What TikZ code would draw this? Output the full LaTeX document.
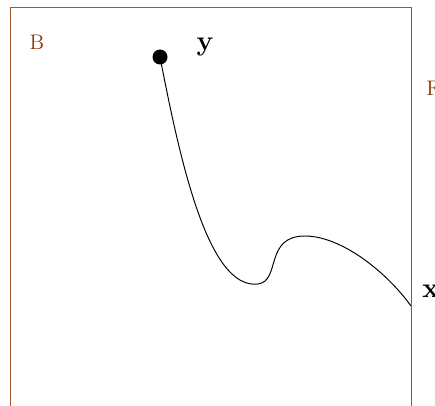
\documentclass[tikz,border=0pt]{standalone}
\usepackage{tikz}
\definecolor{framebrown}{RGB}{170,85,40}
\definecolor{labelbrown}{RGB}{140,55,15}

\begin{document}
\begin{tikzpicture}[
        x=0.02cm, y=-0.02cm,
        region/.style={text=labelbrown,font=\fontsize{12}{14}\selectfont,inner sep=0pt},
        point/.style={font=\fontsize{16}{18}\selectfont\bfseries,inner sep=0pt},
        dot/.style={circle,fill=black,minimum size=0.3cm,inner sep=0pt}
      ]
        \useasboundingbox (0,0) rectangle (435,405);
        \clip (0,0) rectangle (435,405);
        % frame
        \draw[framebrown,line width=0.5pt] (10,420) -- (10,7) -- (411,7) -- (411,420);
        \node[region] (B) at (37,42) {B};
        \node[region,anchor=west] (F) at (426,88) {F};
        % points
        \node[dot] (ydot) at (160,57) {};
        \node[point] (ylab) at (205,47) {y};
        \coordinate (xend) at (411,306);
        \node[point,anchor=west] (xlab) at (422,291) {x};
        % path
        \draw[line width=0.55pt] (ydot.center) .. controls (180,160) and (208,290) .. (258,284)
          .. controls (281,281) and (264,236) .. (305,236)
          .. controls (340,236) and (385,270) .. (xend);
      \end{tikzpicture}
\end{document}
